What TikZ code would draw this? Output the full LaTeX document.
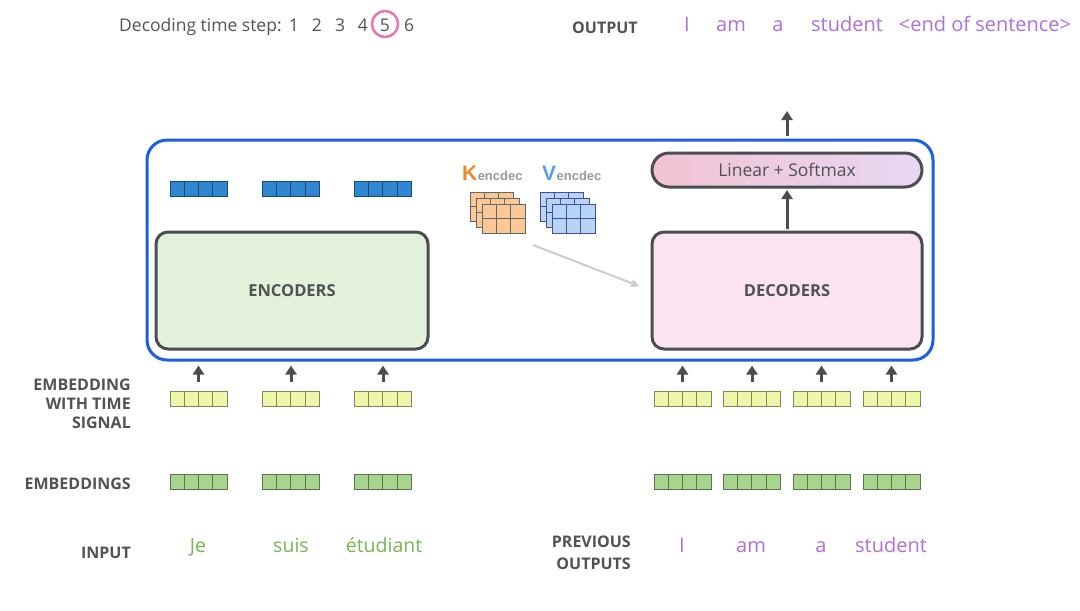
\documentclass[tikz,border=0pt]{standalone}
\usepackage{fontspec}
\setmainfont{Open Sans}
\newfontfamily\arialfont{Liberation Sans}
\usetikzlibrary{positioning,arrows.meta,calc}
\definecolor{darkline}{HTML}{4A4D52}
\definecolor{labelgray}{HTML}{505254}
\definecolor{stackblue}{HTML}{1B5FE3}
\definecolor{encblue}{HTML}{2F86D1}
\definecolor{timeyellow}{HTML}{EEF6A9}
\definecolor{embgreen}{HTML}{A8D58D}
\definecolor{wordgreen}{HTML}{72B84F}
\definecolor{wordpurple}{HTML}{B06FD8}
\definecolor{encfill}{HTML}{E3F1DB}
\definecolor{decfill}{HTML}{FBE4F0}
\definecolor{kfill}{HTML}{F8C996}
\definecolor{kletter}{HTML}{F0892B}
\definecolor{vfill}{HTML}{B5D3F5}
\definecolor{vletter}{HTML}{5C9EEB}
\definecolor{stepcircle}{HTML}{E377B2}
\definecolor{linleft}{HTML}{F1C3D3}
\definecolor{linright}{HTML}{E8D7F3}

% one word vector of four cells
\newcommand{\wordvec}[4]{%
  \node[vecbox, fill=#4, draw=#4!55!black] (#1) at (#2,#3) {};
  \foreach \k in {1,2,3}
    \draw[draw=#4!55!black, line width=1pt] ($(#1.south west)+(\k*14.25,0)$) -- ($(#1.north west)+(\k*14.25,0)$);
}
% one 3x2 key/value grid
\newcommand{\kvgrid}[4]{%
  \draw[fill=#3, draw=#4, line width=1pt] (#1,#2) rectangle ++(43,29);
  \draw[draw=#4, line width=1pt] (#1+14.33,#2) -- ++(0,29) (#1+28.67,#2) -- ++(0,29) (#1,#2+14.5) -- ++(43,0);
}

\tikzset{
  vecbox/.style={minimum width=57pt, minimum height=15pt, inner sep=0pt},
  uparrow/.style={draw=darkline, line width=3pt, -{Triangle[length=9pt,width=11pt]}},
  kvarrow/.style={draw=black!20, line width=2pt, -{Triangle[length=8pt,width=8pt]}},
  blockbox/.style={draw=darkline, line width=3pt, rounded corners=12pt, minimum width=272pt, minimum height=117pt,
    font=\fontsize{16.5}{19}\selectfont\bfseries, text=labelgray},
  rowlabel/.style={anchor=base east, inner sep=0pt, align=right, font=\fontsize{16}{19}\selectfont\bfseries, text=labelgray},
  inword/.style={anchor=base, inner sep=0pt, font=\fontsize{19.5}{22}\selectfont, text=wordgreen},
  outword/.style={anchor=base, inner sep=0pt, font=\fontsize{20}{22}\selectfont, text=wordpurple},
  stepnum/.style={anchor=base, inner sep=0pt, font=\fontsize{17.5}{20}\selectfont, text=labelgray},
}

\begin{document}
\begin{tikzpicture}[x=1pt,y=-1pt]
  \useasboundingbox (0,0) rectangle (1080,611);

  % decoding time steps
  \node[stepnum, anchor=base west] (steptitle) at (119,31) {Decoding time step:};
  \foreach \n/\x in {1/294,2/317,3/340,4/363,5/385,6/409}
    \node[stepnum] (t\n) at (\x,31) {\n};
  \node[draw=stepcircle, circle, line width=2.5pt, minimum size=26pt, inner sep=0pt] (tcircle) at (385,24) {};

  % output words
  \node[rowlabel, anchor=base west] (outlabel) at (572,33) {OUTPUT};
  \node[outword] (o1) at (687,31) {I};
  \node[outword] (o2) at (731,31) {am};
  \node[outword] (o3) at (778,31) {a};
  \node[outword] (o4) at (847,31) {student};
  \node[outword] (o5) at (985,31) {<end of sentence>};

  % encoder-decoder stack
  \node[draw=stackblue, line width=3pt, rounded corners=20pt, minimum width=786pt, minimum height=220pt] (stack) at (540,250) {};
  \node[blockbox, fill=encfill] (enc) at (292,290.5) {ENCODERS};
  \node[blockbox, fill=decfill, minimum width=270pt] (dec) at (787,290.5) {DECODERS};
  \node[draw=darkline, line width=3pt, rounded corners=17pt, minimum width=270pt, minimum height=34pt,
    left color=linleft, right color=linright, font=\fontsize{17.5}{20}\selectfont, text=labelgray] (lin) at (787,170) {Linear + Softmax};

  % encoder outputs
  \foreach \i/\x in {1/198.5,2/291,3/383}
    \wordvec{be\i}{\x}{188.5}{encblue};

  % keys and values
  \node[anchor=base west, inner sep=0pt, font=\arialfont\fontsize{21}{24}\selectfont\bfseries, text=kletter] (klab) at (462,180) {K};
  \node[anchor=base west, inner sep=0pt, font=\arialfont\fontsize{13}{15}\selectfont\bfseries, text=black!40] (ksub) at (klab.base east) {encdec};
  \node[anchor=base west, inner sep=0pt, font=\arialfont\fontsize{21}{24}\selectfont\bfseries, text=vletter] (vlab) at (542,180) {V};
  \node[anchor=base west, inner sep=0pt, font=\arialfont\fontsize{13}{15}\selectfont\bfseries, text=black!40] (vsub) at (vlab.base east) {encdec};
  \foreach \d in {0,6,12} {
    \kvgrid{470+\d}{192+\d}{kfill}{black!60};
    \kvgrid{540+\d}{192+\d}{vfill}{black!60!blue!70};
  }
  \coordinate (kvout) at (533,245);
  \draw[kvarrow, shorten >=12pt] (kvout) -- (dec.west);

  % arrows inside decoder side
  \draw[uparrow, shorten <=1.5pt, shorten >=1.5pt] (dec.north) -- (lin.south);
  \coordinate (outtip) at (787,111);
  \draw[uparrow, shorten <=3pt] (stack.north -| lin.north) -- (outtip);

  % embeddings with time signal
  \foreach \i/\x in {1/198.5,2/291,3/383}
    \wordvec{ye\i}{\x}{398.5}{timeyellow};
  \foreach \i/\x in {1/682.5,2/752,3/821.5,4/891.5}
    \wordvec{yd\i}{\x}{398.5}{timeyellow};
  \foreach \i in {1,2,3}
    \draw[uparrow, shorten <=9pt, shorten >=4pt] (ye\i.north) -- (ye\i.north |- stack.south);
  \foreach \i in {1,2,3,4}
    \draw[uparrow, shorten <=9pt, shorten >=4pt] (yd\i.north) -- (yd\i.north |- stack.south);

  % embeddings
  \foreach \i/\x in {1/198.5,2/291,3/383}
    \wordvec{ge\i}{\x}{482}{embgreen};
  \foreach \i/\x in {1/682.5,2/752,3/821.5,4/891.5}
    \wordvec{gd\i}{\x}{482}{embgreen};

  % row labels
  \node[rowlabel] (timelabel) at (131,428) {EMBEDDING\\WITH TIME\\SIGNAL};
  \node[rowlabel] (emblabel) at (131,489) {EMBEDDINGS};
  \node[rowlabel] (inlabel) at (131,558) {INPUT};
  \node[rowlabel, font=\fontsize{16}{22}\selectfont\bfseries] (prevlabel) at (631,569) {PREVIOUS\\OUTPUTS};

  % input and previous output words
  \node[inword] (w1) at (198,552) {Je};
  \node[inword] (w2) at (291,552) {suis};
  \node[inword] (w3) at (384,552) {étudiant};
  \node[outword] (p1) at (682,552) {I};
  \node[outword] (p2) at (751,552) {am};
  \node[outword] (p3) at (821,552) {a};
  \node[outword] (p4) at (891,552) {student};
\end{tikzpicture}
\end{document}
